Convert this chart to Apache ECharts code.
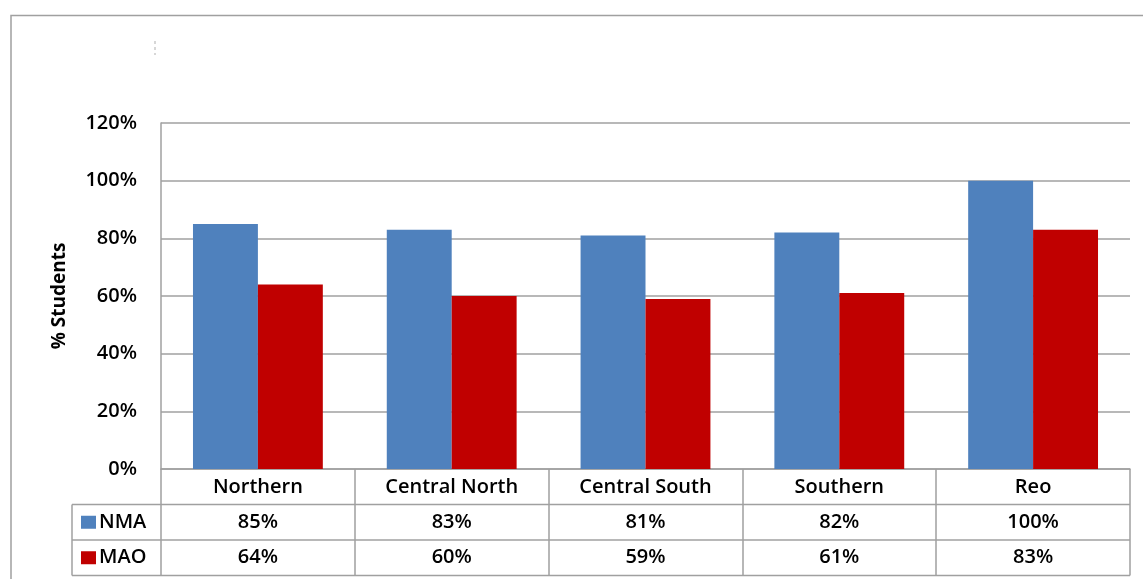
<!DOCTYPE html>
<html>
<head>
<meta charset="utf-8">
<script src="https://cdn.jsdelivr.net/npm/echarts@6/dist/echarts.min.js"></script>
<style>
  html, body { margin: 0; padding: 0; background: #fff; }
  #main { width: 1143px; height: 579px; }
</style>
</head>
<body>
<div id="main"></div>
<script>
  // data
  var regions = ['Northern', 'Central North', 'Central South', 'Southern', 'Reo'];
  var nmaValues = [85, 83, 81, 82, 100];
  var maoValues = [64, 60, 59, 61, 83];
  var seriesNames = ['NMA', 'MAO'];
  var seriesColors = ['#4F81BD', '#C00000'];

  var FONT = '"Open Sans", "Noto Sans", sans-serif';
  var GRID_LEFT = 161, GRID_TOP = 123, GRID_BOTTOM_Y = 469, GRID_RIGHT_X = 1130;
  var ROW_H = 35.5;
  var lineColor = '#a0a0a0';
  var textColor = '#000';

  var myChart = echarts.init(document.getElementById('main'));

  var option = {
    animation: false,
    backgroundColor: '#fff',
    grid: {
      left: GRID_LEFT,
      right: 1143 - GRID_RIGHT_X,
      top: GRID_TOP,
      bottom: 579 - GRID_BOTTOM_Y,
      containLabel: false
    },
    xAxis: {
      type: 'category',
      data: regions,
      axisLine: { lineStyle: { color: lineColor, width: 1.5 } },
      axisTick: { show: true, interval: 0, length: ROW_H * 3, lineStyle: { color: lineColor, width: 1.5 } },
      axisLabel: { interval: 0, margin: 8, fontFamily: FONT, fontSize: 20, fontWeight: 600, color: textColor }
    },
    yAxis: {
      type: 'value',
      min: 0,
      max: 120,
      interval: 20,
      name: '% Students',
      nameLocation: 'middle',
      nameRotate: 90,
      nameGap: 92,
      nameTextStyle: { fontFamily: FONT, fontSize: 19, fontWeight: 'bold', color: textColor },
      axisLine: { show: true, lineStyle: { color: lineColor, width: 1.5 } },
      axisTick: { show: false },
      axisLabel: { formatter: '{value}%', margin: 24, fontFamily: FONT, fontSize: 20, fontWeight: 600, color: textColor },
      splitLine: { lineStyle: { color: lineColor, width: 1.5 } }
    },
    series: [
      {
        name: seriesNames[0],
        type: 'bar',
        data: nmaValues,
        barCategoryGap: '33%',
        barGap: '0%',
        itemStyle: { color: seriesColors[0] }
      },
      {
        name: seriesNames[1],
        type: 'bar',
        data: maoValues,
        barCategoryGap: '33%',
        barGap: '0%',
        itemStyle: { color: seriesColors[1] }
      }
    ]
  };
  myChart.setOption(option);

  // data table under the axis
  var tableLeft = 72;
  var rowTops = [GRID_BOTTOM_Y + ROW_H, GRID_BOTTOM_Y + ROW_H * 2];
  var tableBottom = GRID_BOTTOM_Y + ROW_H * 3;
  var cellFont = '600 20px ' + FONT;
  var graphics = [
    // outer chart border (left and top)
    { type: 'polyline', shape: { points: [[11, 579], [11, 15.5], [1143, 15.5]] },
      style: { stroke: lineColor, lineWidth: 1.5, fill: null } },
    // stray mark near the top
    { type: 'line', shape: { x1: 155, y1: 41, x2: 155, y2: 55 },
      style: { stroke: '#b0b0b0', lineWidth: 1, lineDash: [3, 3] } },
    // table horizontal lines
    { type: 'line', shape: { x1: tableLeft, y1: rowTops[0], x2: GRID_RIGHT_X, y2: rowTops[0] },
      style: { stroke: lineColor, lineWidth: 1.5 } },
    { type: 'line', shape: { x1: tableLeft, y1: rowTops[1], x2: GRID_RIGHT_X, y2: rowTops[1] },
      style: { stroke: lineColor, lineWidth: 1.5 } },
    { type: 'line', shape: { x1: tableLeft, y1: tableBottom, x2: GRID_RIGHT_X, y2: tableBottom },
      style: { stroke: lineColor, lineWidth: 1.5 } },
    { type: 'line', shape: { x1: tableLeft, y1: rowTops[0], x2: tableLeft, y2: tableBottom },
      style: { stroke: lineColor, lineWidth: 1.5 } }
  ];

  var rows = [nmaValues, maoValues];
  rows.forEach(function (vals, r) {
    var cy = rowTops[r] + ROW_H / 2;
    // legend key + name
    graphics.push({ type: 'rect', shape: { x: 81, y: cy - 6.5, width: 15, height: 13 },
      style: { fill: seriesColors[r] } });
    graphics.push({ type: 'text', x: 99, y: cy,
      style: { text: seriesNames[r], font: cellFont, fill: textColor,
        textAlign: 'left', textVerticalAlign: 'middle' } });
    vals.forEach(function (v, i) {
      var cx = myChart.convertToPixel({ xAxisIndex: 0 }, regions[i]);
      graphics.push({ type: 'text', x: cx, y: cy,
        style: { text: v + '%', font: cellFont, fill: textColor,
          textAlign: 'center', textVerticalAlign: 'middle' } });
    });
  });

  myChart.setOption({ graphic: graphics });
</script>
</body>
</html>
